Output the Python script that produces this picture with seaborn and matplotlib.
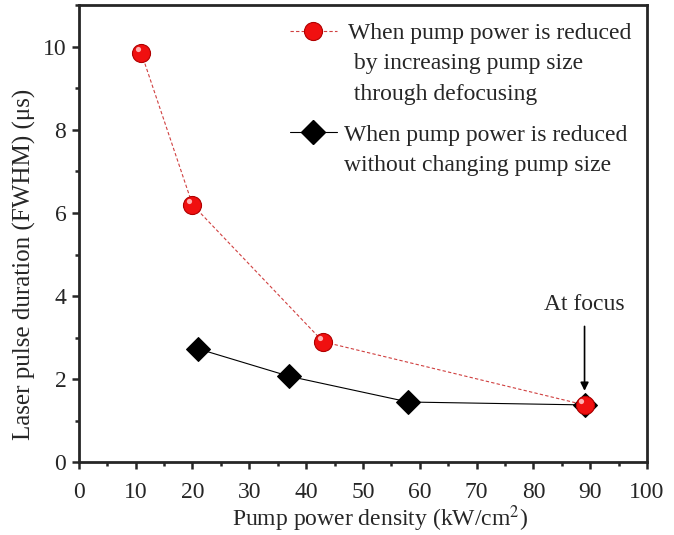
import numpy as np
import seaborn as sns
import matplotlib.pyplot as plt
from matplotlib.lines import Line2D
from matplotlib.ticker import MultipleLocator

# data
defocus_x = [11, 20, 43, 89]
defocus_y = [9.85, 6.2, 2.9, 1.38]
fixed_x = [21, 37, 58, 89]
fixed_y = [2.73, 2.07, 1.45, 1.38]

red_lines = ["When pump power is reduced", " by increasing pump size", " through defocusing"]
black_lines = ["When pump power is reduced", "without changing pump size"]

sns.set_theme(style="ticks")
plt.rcParams['font.family'] = ['Liberation Serif', 'DejaVu Serif']
plt.rcParams['mathtext.fontset'] = 'stix'

fig = plt.figure(figsize=(6.74, 5.35), dpi=100)
ax = fig.add_axes([0.117, 0.136, 0.843, 0.854])

sns.lineplot(x=fixed_x, y=fixed_y, ax=ax, color='black', lw=0.8,
             marker='D', markersize=12, markerfacecolor='black',
             markeredgecolor='black', zorder=3)
sns.lineplot(x=defocus_x, y=defocus_y, ax=ax, color='#d04040', lw=0.8,
             linestyle=(0, (3, 2)), marker='o', markersize=13,
             markerfacecolor='#f01010', markeredgecolor='#b00000',
             markeredgewidth=0.8, zorder=4)
# highlight on the spheres
ax.scatter([x - 0.6 for x in defocus_x], [y + 0.1 for y in defocus_y],
           s=14, color='#ffb0b0', zorder=5, linewidths=0)

ax.set_xlim(0, 100)
ax.set_ylim(0, 11)
ax.xaxis.set_major_locator(MultipleLocator(10))
ax.xaxis.set_minor_locator(MultipleLocator(5))
ax.yaxis.set_major_locator(MultipleLocator(2))
ax.yaxis.set_minor_locator(MultipleLocator(1))
ax.tick_params(which='major', direction='out', length=5, width=1.8,
               labelsize=17, top=False, right=False)
ax.tick_params(which='minor', direction='out', length=3, width=1.8,
               top=False, right=False)
ax.tick_params(axis='x', pad=9)
ax.tick_params(axis='y', pad=4)
for sp in ax.spines.values():
    sp.set_linewidth(2)
    sp.set_visible(True)

ax.set_xlabel('Pump power density (kW/cm$^2$)', fontsize=17)
ax.set_ylabel('Laser pulse duration (FWHM) (μs)', fontsize=18)
ax.xaxis.set_label_coords(0.53, -0.09)
ax.yaxis.set_label_coords(-0.075, 0.433)

ax.annotate('At focus', xy=(89, 1.72), xytext=(89, 3.55), fontsize=17,
            ha='center', va='bottom',
            arrowprops=dict(arrowstyle='-|>', color='black', lw=1.2,
                            mutation_scale=12, shrinkA=6, shrinkB=0))

# legends: handle aligned with the first line of each label
blank = Line2D([], [], color='none')
red_h = Line2D([], [], color='#d04040', lw=0.8, linestyle=(0, (3, 2)),
               marker='o', markersize=13, markerfacecolor='#f01010',
               markeredgecolor='#b00000', markeredgewidth=0.8)
black_h = Line2D([], [], color='black', lw=0.8, marker='D', markersize=12,
                 markerfacecolor='black', markeredgecolor='black')

leg1 = ax.legend([red_h, blank, blank], red_lines, loc='upper left',
                 bbox_to_anchor=(0.371, 0.963), frameon=False, fontsize=17,
                 handlelength=2.0, handletextpad=0.45, labelspacing=0.38,
                 borderpad=0, borderaxespad=0)
ax.add_artist(leg1)
ax.legend([black_h, blank], black_lines, loc='upper left',
          bbox_to_anchor=(0.371, 0.74), frameon=False, fontsize=17,
          handlelength=2.0, handletextpad=0.3, labelspacing=0.38,
          borderpad=0, borderaxespad=0)

fig.savefig('out.png', dpi=100)
